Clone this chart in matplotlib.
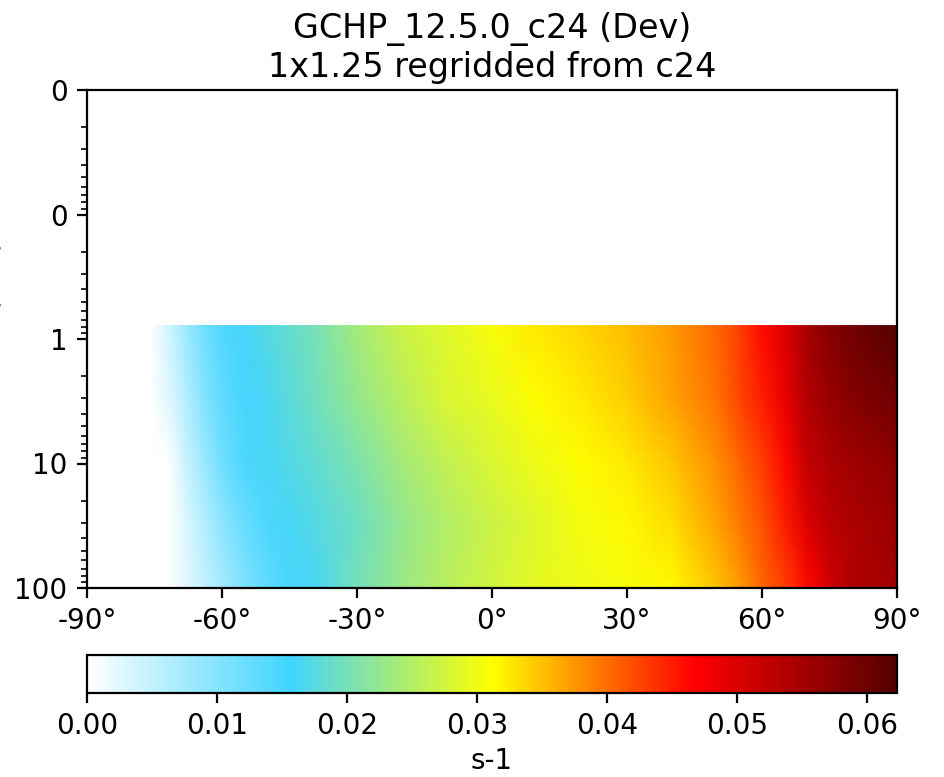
import numpy as np
import matplotlib
matplotlib.use("Agg")
import matplotlib.pyplot as plt
from matplotlib.colors import LinearSegmentedColormap
from matplotlib.ticker import FuncFormatter

# latitude nodes (deg) and pressure levels (hPa)
lats = [-90, -76, -72, -68, -64, -60, -55, -50, -45, -40, -30, -20, -10,
        0, 10, 20, 30, 40, 50, 55, 60, 65, 70, 75, 80, 90]
pres = [0.78, 3, 10, 30, 100]

# zonal mean values (s-1) at each pressure level
vals_078 = [0, 0, 0.0037, 0.0081, 0.0118, 0.0143, 0.0159, 0.0174, 0.0187, 0.0199,
            0.0237, 0.0268, 0.0287, 0.0305, 0.0324, 0.0336, 0.0352, 0.0374, 0.0405,
            0.0430, 0.0461, 0.0498, 0.0548, 0.0579, 0.0598, 0.0623]
vals_3 = [0, 0, 0.0025, 0.0062, 0.0100, 0.0131, 0.0153, 0.0165, 0.0178, 0.0193,
          0.0224, 0.0255, 0.0280, 0.0293, 0.0312, 0.0324, 0.0343, 0.0368, 0.0399,
          0.0424, 0.0449, 0.0486, 0.0536, 0.0561, 0.0579, 0.0598]
vals_10 = [0, 0, 0, 0.0044, 0.0081, 0.0118, 0.0146, 0.0162, 0.0171, 0.0181,
           0.0206, 0.0237, 0.0262, 0.0280, 0.0299, 0.0312, 0.0324, 0.0346, 0.0380,
           0.0405, 0.0430, 0.0461, 0.0523, 0.0542, 0.0554, 0.0573]
vals_30 = [0, 0, 0, 0.0031, 0.0062, 0.0093, 0.0125, 0.0146, 0.0162, 0.0171,
           0.0193, 0.0224, 0.0249, 0.0268, 0.0287, 0.0302, 0.0315, 0.0333, 0.0368,
           0.0392, 0.0417, 0.0449, 0.0498, 0.0530, 0.0542, 0.0561]
vals_100 = [0, 0, 0, 0.0025, 0.0050, 0.0075, 0.0106, 0.0131, 0.0150, 0.0162,
            0.0199, 0.0231, 0.0255, 0.0274, 0.0290, 0.0299, 0.0305, 0.0315, 0.0349,
            0.0374, 0.0405, 0.0430, 0.0461, 0.0511, 0.0536, 0.0554]

vmax = 0.0623
xticks = [-90, -60, -30, 0, 30, 60, 90]
cbar_ticks = [0.0, 0.01, 0.02, 0.03, 0.04, 0.05, 0.06]

cmap = LinearSegmentedColormap.from_list(
    "WhGrYlRd", [(0.0, "#ffffff"), (0.25, "#40d4ff"), (0.5, "#ffff00"),
                 (0.75, "#ff0000"), (1.0, "#550000")])

fig = plt.figure(figsize=(4.72, 3.885), dpi=200)
ax = fig.add_axes([87/944, 1 - 588/777, 810/944, 498/777])

X, Y = np.meshgrid(lats, pres)
Z = np.array([vals_078, vals_3, vals_10, vals_30, vals_100])
mesh = ax.pcolormesh(X, Y, Z, cmap=cmap, vmin=0, vmax=vmax, shading="gouraud")

ax.set_yscale("log")
ax.set_ylim(100, 0.01)
ax.set_xlim(-90, 90)
ax.yaxis.set_major_formatter(FuncFormatter(lambda v, p: "{:.0f}".format(v)))
ax.set_xticks(xticks)
ax.set_xticklabels(["{}°".format(v) for v in xticks])
ax.set_title("GCHP_12.5.0_c24 (Dev)\n1x1.25 regridded from c24", pad=4.5)
fig.text(4/944, 1 - 339/777, "Pressure (hPa)", rotation=90, ha="right", va="center")

cax = fig.add_axes([87/944, 1 - 693/777, 810/944, 38/777])
cb = fig.colorbar(mesh, cax=cax, orientation="horizontal")
cb.set_ticks(cbar_ticks)
cb.set_ticklabels(["{:.2f}".format(t) for t in cbar_ticks])
cb.set_label("s-1", labelpad=2.5)

fig.savefig("out.png", dpi=200)
